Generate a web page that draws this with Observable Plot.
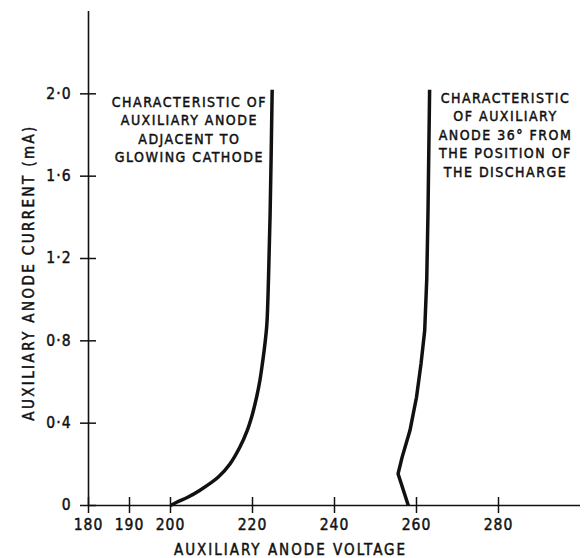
<!DOCTYPE html>
<html>
<head>
<meta charset="utf-8">
<script src="https://cdn.jsdelivr.net/npm/d3@7"></script>
<script src="https://cdn.jsdelivr.net/npm/@observablehq/plot@0.6"></script>
<style>
  html, body { margin: 0; padding: 0; background: #fff; }
  #chart svg { display: block; }
  #chart svg text { stroke: #111; stroke-width: 0.45px; paint-order: normal; }
</style>
</head>
<body>
<div id="chart"></div>
<script>
// Axis ticks
const voltageTicks = [180, 190, 200, 220, 240, 260, 280];
const currentTicks = [0, 0.4, 0.8, 1.2, 1.6, 2.0];

// Curve 1: auxiliary anode adjacent to glowing cathode
const adjacentVoltage = [200, 201.5, 204.2, 207.1, 211.6, 214.5, 216.9, 218.7, 220.0, 221.0, 221.8, 222.4, 223.0, 223.5, 223.9, 224.3, 224.8];
const adjacentCurrent = [0, 0.016, 0.04, 0.073, 0.137, 0.202, 0.283, 0.364, 0.445, 0.526, 0.607, 0.688, 0.78, 0.88, 1.1, 1.42, 2.02];

// Curve 2: auxiliary anode 36° from the discharge
const farVoltage = [258.0, 255.5, 256.5, 258.4, 260.0, 261.1, 262.0, 262.5, 262.8, 263.2];
const farCurrent = [0, 0.154, 0.235, 0.364, 0.526, 0.688, 0.85, 1.1, 1.42, 2.02];

// Annotations
const noteTexts = [
  "CHARACTERISTIC OF\nAUXILIARY ANODE\nADJACENT TO\nGLOWING CATHODE",
  "CHARACTERISTIC\nOF AUXILIARY\nANODE 36° FROM\nTHE POSITION OF\nTHE DISCHARGE"
];
const noteVoltage = [204.6, 281.7];
const noteCurrent = [2.0, 2.02];

const xTitle = "AUXILIARY ANODE VOLTAGE";
const yTitle = "AUXILIARY ANODE CURRENT (mA)";

const adjacent = adjacentVoltage.map((v, i) => ({v, i: adjacentCurrent[i]}));
const far = farVoltage.map((v, i) => ({v, i: farCurrent[i]}));
const notes = noteTexts.map((t, k) => ({t, v: noteVoltage[k], i: noteCurrent[k]}));

const fmt = d => d === 0 ? "0" : d.toFixed(1).replace(".", "\u00B7");

const chart = Plot.plot({
  width: 584,
  height: 558,
  marginLeft: 88,
  marginRight: 4,
  marginTop: 11,
  marginBottom: 53,
  style: {fontFamily: "'DejaVu Sans Condensed', 'DejaVu Sans', sans-serif", fontSize: "15px", color: "#111", background: "#fff"},
  x: {domain: [180, 300]},
  y: {domain: [0, 2.4]},
  marks: [
    Plot.ruleY([0], {stroke: "#111", strokeWidth: 1.6}),
    Plot.ruleX([180], {stroke: "#111", strokeWidth: 1.6}),
    Plot.axisX(voltageTicks, {tickSize: 8, tickPadding: 5, tickFormat: d => String(d), label: null, fontSize: 15.5, stroke: "#111", strokeWidth: 1.5}),
    Plot.axisX(voltageTicks, {tickSize: -8, tickFormat: () => "", label: null, stroke: "#111", strokeWidth: 1.5}),
    Plot.axisY(currentTicks, {tickSize: 8, tickPadding: 9, tickFormat: fmt, label: null, fontSize: 15.5, stroke: "#111", strokeWidth: 1.5}),
    Plot.axisY(currentTicks, {tickSize: -8, tickFormat: () => "", label: null, stroke: "#111", strokeWidth: 1.5}),
    Plot.line(adjacent, {x: "v", y: "i", curve: "catmull-rom", stroke: "#111", strokeWidth: 3.5, strokeLinecap: "butt"}),
    Plot.line(far, {x: "v", y: "i", curve: "linear", stroke: "#111", strokeWidth: 3.5, strokeLinecap: "butt", strokeLinejoin: "round"}),
    Plot.text(notes, {x: "v", y: "i", text: "t", textAnchor: "middle", lineAnchor: "top", lineHeight: 1.32, fontSize: 14, fill: "#111"}),
    Plot.text([xTitle], {frameAnchor: "bottom", textAnchor: "middle", lineAnchor: "middle", dy: 45, dx: -44, fontSize: 15, fill: "#111"}),
    Plot.text([yTitle], {frameAnchor: "left", textAnchor: "middle", rotate: -90, lineAnchor: "middle", dx: -59, dy: 14, fontSize: 15, fill: "#111"})
  ]
});

document.getElementById("chart").appendChild(chart);

// letter spacing, mimicking the stencil lettering
d3.select(chart).selectAll("text").style("letter-spacing", "1px");
d3.select(chart).selectAll("text").filter(function() { return this.textContent === xTitle; }).style("letter-spacing", "2px");
d3.select(chart).selectAll("text").filter(function() { return this.textContent === yTitle; }).style("letter-spacing", "2.4px");
d3.select(chart).selectAll("text").filter(function() { return this.querySelector("tspan") !== null; }).style("letter-spacing", "1.5px");
</script>
</body>
</html>
